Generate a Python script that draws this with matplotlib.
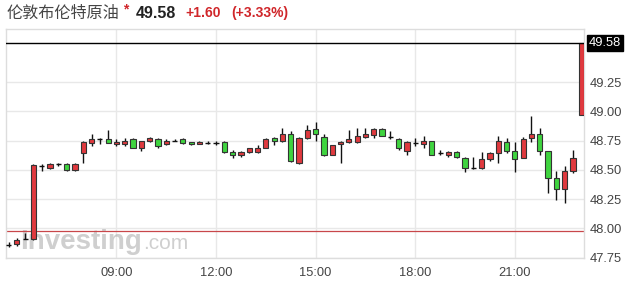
import matplotlib
matplotlib.use("Agg")
import matplotlib.pyplot as plt
import numpy as np
import pandas as pd

plt.rcParams['font.family'] = ['Liberation Sans', 'Noto Sans CJK SC', 'DejaVu Sans']

# 15-minute candles, 05:45 .. 23:00
times = pd.date_range("2020-01-01 05:45", "2020-01-01 23:00", freq="15min")

opens = [47.86, 47.87, 47.91, 47.91, 48.53, 48.52, 48.55, 48.55, 48.50, 48.64,
         48.73, 48.76, 48.76, 48.72, 48.72, 48.76, 48.69, 48.75, 48.76, 48.72,
         48.75, 48.76, 48.74, 48.72, 48.73, 48.73, 48.74, 48.65, 48.63, 48.65,
         48.65, 48.69, 48.77, 48.75, 48.81, 48.56, 48.77, 48.85, 48.78, 48.63,
         48.72, 48.74, 48.74, 48.78, 48.80, 48.85, 48.78, 48.76, 48.66, 48.73,
         48.72, 48.75, 48.64, 48.63, 48.65, 48.60, 48.52, 48.52, 48.59, 48.64,
         48.74, 48.66, 48.60, 48.77, 48.81, 48.66, 48.43, 48.34, 48.49, 48.97]
highs = [47.88, 47.92, 47.96, 48.55, 48.55, 48.56, 48.56, 48.56, 48.56, 48.75,
         48.81, 48.77, 48.84, 48.76, 48.77, 48.77, 48.75, 48.78, 48.77, 48.76,
         48.76, 48.77, 48.74, 48.75, 48.75, 48.75, 48.75, 48.67, 48.66, 48.69,
         48.71, 48.77, 48.78, 48.86, 48.83, 48.78, 48.88, 48.91, 48.81, 48.71,
         48.75, 48.84, 48.86, 48.86, 48.86, 48.86, 48.83, 48.77, 48.75, 48.77,
         48.79, 48.75, 48.67, 48.66, 48.66, 48.61, 48.61, 48.65, 48.65, 48.79,
         48.77, 48.74, 48.78, 48.96, 48.86, 48.66, 48.49, 48.53, 48.67, 49.58]
lows = [47.84, 47.85, 47.91, 47.90, 48.49, 48.51, 48.53, 48.49, 48.49, 48.56,
        48.70, 48.72, 48.73, 48.70, 48.70, 48.69, 48.66, 48.74, 48.69, 48.71,
        48.75, 48.72, 48.71, 48.72, 48.72, 48.71, 48.64, 48.60, 48.61, 48.64,
        48.64, 48.69, 48.71, 48.74, 48.57, 48.55, 48.76, 48.75, 48.62, 48.63,
        48.56, 48.73, 48.73, 48.77, 48.77, 48.79, 48.76, 48.67, 48.63, 48.70,
        48.69, 48.63, 48.63, 48.61, 48.60, 48.48, 48.51, 48.51, 48.58, 48.56,
        48.64, 48.48, 48.60, 48.74, 48.63, 48.30, 48.24, 48.22, 48.47, 48.97]
closes = [47.86, 47.90, 47.91, 48.54, 48.53, 48.55, 48.55, 48.50, 48.55, 48.74,
          48.76, 48.76, 48.73, 48.74, 48.75, 48.69, 48.75, 48.77, 48.70, 48.75,
          48.75, 48.73, 48.72, 48.74, 48.73, 48.73, 48.65, 48.63, 48.65, 48.69,
          48.69, 48.76, 48.75, 48.81, 48.58, 48.77, 48.84, 48.81, 48.63, 48.71,
          48.74, 48.76, 48.79, 48.81, 48.85, 48.79, 48.78, 48.69, 48.74, 48.73,
          48.75, 48.63, 48.64, 48.65, 48.61, 48.52, 48.52, 48.59, 48.64, 48.75,
          48.66, 48.59, 48.76, 48.81, 48.66, 48.43, 48.34, 48.49, 48.60, 49.58]

last_price = 49.58
prev_close = 47.98
y_ticks = [47.75, 48.00, 48.25, 48.50, 48.75, 49.00, 49.25]
x_tick_hours = [9, 12, 15, 18, 21]

up_col = '#e0393e'
down_col = '#3fd43f'

fig = plt.figure(figsize=(6.25, 2.87), dpi=100)
ax = fig.add_axes([6 / 625, 29.3 / 287, 578 / 625, 228.7 / 287])

x = np.arange(len(times))
o = np.array(opens)
h = np.array(highs)
l = np.array(lows)
c = np.array(closes)

ax.vlines(x, l, h, color='#111111', lw=1, zorder=3)
body_w = 0.62
for xi, oi, ci in zip(x, o, c):
    if ci == oi:
        ax.hlines(ci, xi - body_w / 2, xi + body_w / 2, color='#111111', lw=1, zorder=4)
    else:
        col = up_col if ci > oi else down_col
        ax.bar(xi, abs(ci - oi), bottom=min(oi, ci), width=body_w,
               color=col, edgecolor='#333333', linewidth=0.8, zorder=4)

ax.axhline(last_price, color='black', lw=1, zorder=5)
ax.axhline(prev_close, color='#c8474a', lw=0.9, zorder=2)

ax.set_xlim(-0.31, 69.33)
ax.set_ylim(47.75, 49.703)

tick_pos = [i for i, t in enumerate(times) if t.minute == 0 and t.hour in x_tick_hours]
ax.set_xticks(tick_pos)
ax.set_xticklabels([times[i].strftime('%H:%M') for i in tick_pos])
ax.set_yticks(y_ticks)
ax.set_yticklabels(['%.2f' % v for v in y_ticks])
ax.yaxis.tick_right()
ax.tick_params(axis='both', length=0, labelsize=9.3, colors='#444444')
ax.tick_params(axis='y', pad=4)
ax.tick_params(axis='x', pad=7)
ax.grid(True, color='#e8e8e8', lw=1, zorder=0)
ax.set_axisbelow(True)
for s in ax.spines.values():
    s.set_color('#dddddd')
    s.set_linewidth(1)

# price tag on the right
ax.text(1.008, last_price, '%.2f' % last_price, transform=ax.get_yaxis_transform(),
        ha='left', va='center', color='white', fontsize=9.3,
        bbox=dict(boxstyle='square,pad=0.15', fc='black', ec='black'), clip_on=False)

# watermark
ax.text(14 / 578, 0.04, 'Investing', transform=ax.transAxes, fontsize=20,
        fontweight='bold', color='#a0a0a0', alpha=0.5, zorder=1)
ax.text(137 / 578, 0.04, '.com', transform=ax.transAxes, fontsize=15,
        color='#b0b0b0', alpha=0.6, zorder=1)

# header
fig.text(7 / 625, 1 - 13 / 287, '伦敦布伦特原油', fontsize=11.6, color='#444444',
         va='center', family=['Noto Sans CJK SC', 'DejaVu Sans'])
fig.text(123 / 625, 1 - 9 / 287, '*', fontsize=10, color='#d0262a',
         va='center', fontweight='bold')
fig.text(136 / 625, 1 - 13 / 287, '49.58', fontsize=11.5, color='#222222',
         va='center', fontweight='bold')
fig.text(185 / 625, 1 - 13 / 287, '+1.60', fontsize=10, color='#d0262a',
         va='center', fontweight='bold')
fig.text(231 / 625, 1 - 13 / 287, '(+3.33%)', fontsize=10, color='#d0262a',
         va='center', fontweight='bold')

fig.savefig('out.png', dpi=100)
